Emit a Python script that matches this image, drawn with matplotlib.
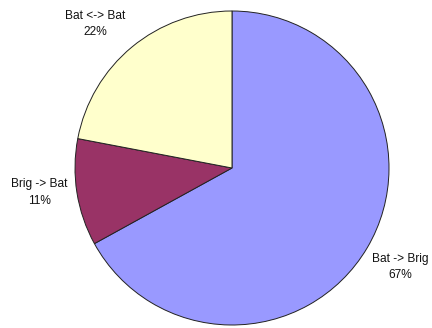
import matplotlib.pyplot as plt

# Anteile der Verbindungen
kategorien = ['Bat -> Brig', 'Brig -> Bat', 'Bat <-> Bat']
prozente = [67, 11, 22]
farben = ['#9999FF', '#993366', '#FFFFCC']

labels = [f"{k}\n{p}%" for k, p in zip(kategorien, prozente)]

fig = plt.figure(figsize=(4.32, 3.28), dpi=100)
ax = fig.add_axes([0, 0, 1, 1])

# Kreis in Pixelkoordinaten: Mittelpunkt (232, 160), Radius 157
keile, texte = ax.pie(prozente, labels=labels, colors=farben, startangle=90,
                      counterclock=False, center=(232, 160), radius=157,
                      labeldistance=1.24,
                      wedgeprops={'edgecolor': '#222222', 'linewidth': 0.7},
                      textprops={'ha': 'center', 'va': 'center', 'fontsize': 8.6,
                                 'family': 'Liberation Sans', 'linespacing': 1.5,
                                 'color': '#111111'})

# Beschriftungen etwas nachschieben
verschiebung = [(1, 0), (0, 6), (-13, -6)]
for t, (dx, dy) in zip(texte, verschiebung):
    x, y = t.get_position()
    t.set_position((x + dx, y + dy))

ax.set_xlim(0, 432)
ax.set_ylim(0, 328)
ax.set_aspect('equal')
ax.axis('off')

fig.savefig('out.png', dpi=100, facecolor='white')
